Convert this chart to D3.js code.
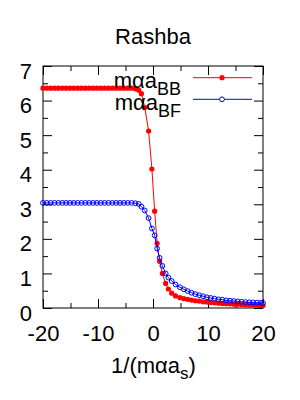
<!DOCTYPE html>
<html>
<head>
<meta charset="utf-8">
<script src="https://cdn.jsdelivr.net/npm/d3@7"></script>
<style>
  body { margin: 0; background: #fff; }
  svg { display: block; font-family: "Liberation Sans", Arial, Helvetica, sans-serif; }
  .axis path { display: none; }
  .axis line { stroke: #000; }
  .axis text { font-size: 22px; fill: #000; font-family: "Liberation Sans", Arial, Helvetica, sans-serif; }
</style>
</head>
<body>
<script>
// x values shared by both series: 1/(m alpha a_s)
var xs = [-20,-19.3,-18.6,-17.9,-17.2,-16.5,-15.8,-15.1,-14.4,-13.7,-13,-12.3,-11.6,-10.9,-10.2,
          -9.5,-8.8,-8.1,-7.4,-6.7,-6,-5.3,-4.6,-3.9,-3.2,-2.6,-2.1,-1.5,-0.8,-0.2,0.3,0.75,1.2,1.7,
          2.3,2.8,3.4,4.1,4.9,5.6,6.3,7.0,7.7,8.4,9.1,9.8,10.5,11.2,11.9,12.6,13.3,14.0,14.7,15.4,
          16.1,16.8,17.5,18.2,18.9,19.6,20];

// m alpha a_BB
var bb = [6.36,6.36,6.36,6.36,6.36,6.36,6.36,6.36,6.36,6.36,6.36,6.36,6.36,6.36,6.36,
          6.36,6.36,6.36,6.36,6.36,6.36,6.36,6.36,6.36,6.34,6.3,6.2,5.8,5.12,4.02,2.8,1.87,1.35,1.0,
          0.71,0.55,0.43,0.35,0.3,0.27,0.25,0.23,0.21,0.2,0.18,0.17,0.16,0.15,0.14,0.13,0.125,0.12,0.11,0.105,
          0.1,0.095,0.09,0.085,0.08,0.075,0.07];

// m alpha a_BF
var bf = [3.04,3.04,3.04,3.04,3.04,3.04,3.04,3.04,3.04,3.04,3.04,3.04,3.04,3.04,3.04,
          3.04,3.04,3.04,3.04,3.04,3.04,3.04,3.04,3.04,3.03,3.01,2.93,2.82,2.6,2.3,2.1,1.72,1.45,1.22,
          1.0,0.88,0.78,0.68,0.6,0.54,0.49,0.44,0.4,0.37,0.34,0.31,0.29,0.27,0.25,0.24,0.22,0.21,0.2,0.19,
          0.18,0.17,0.165,0.16,0.155,0.15,0.145];

var xMajor = [-20, -10, 0, 10, 20];
var xMinor = [-15, -5, 5, 15];
var yMajor = [0, 1, 2, 3, 4, 5, 6, 7];
var yMinor = [0.5, 1.5, 2.5, 3.5, 4.5, 5.5, 6.5];

var width = 300, height = 400;
var mLeft = 43, mRight = 263, mTop = 66, mBottom = 308;

var svg = d3.select("body").append("svg")
    .attr("width", width)
    .attr("height", height);

var x = d3.scaleLinear().domain([-20, 20]).range([mLeft, mRight]);
var y = d3.scaleLinear().domain([0, 7]).range([mBottom, mTop]);

var plain = function(d) { return String(d); };  // hyphen minus, like the original

// ticks on all four sides, pointing inward
svg.append("g").attr("class", "axis")
    .attr("transform", "translate(0," + mBottom + ")")
    .call(d3.axisBottom(x).tickValues(xMajor).tickSize(-9).tickPadding(17).tickFormat(plain));
svg.append("g").attr("class", "axis")
    .attr("transform", "translate(0," + mBottom + ")")
    .call(d3.axisBottom(x).tickValues(xMinor).tickSize(-5).tickFormat(""));
svg.append("g").attr("class", "axis")
    .attr("transform", "translate(0," + mTop + ")")
    .call(d3.axisTop(x).tickValues(xMajor).tickSize(-9).tickFormat(""));
svg.append("g").attr("class", "axis")
    .attr("transform", "translate(0," + mTop + ")")
    .call(d3.axisTop(x).tickValues(xMinor).tickSize(-5).tickFormat(""));

svg.append("g").attr("class", "axis")
    .attr("transform", "translate(" + mLeft + ",0)")
    .call(d3.axisLeft(y).tickValues(yMajor).tickSize(-9).tickPadding(11).tickFormat(plain))
    .selectAll("text").attr("dy", "0.55em");
svg.append("g").attr("class", "axis")
    .attr("transform", "translate(" + mLeft + ",0)")
    .call(d3.axisLeft(y).tickValues(yMinor).tickSize(-5).tickFormat(""));
svg.append("g").attr("class", "axis")
    .attr("transform", "translate(" + mRight + ",0)")
    .call(d3.axisRight(y).tickValues(yMajor).tickSize(-9).tickFormat(""));
svg.append("g").attr("class", "axis")
    .attr("transform", "translate(" + mRight + ",0)")
    .call(d3.axisRight(y).tickValues(yMinor).tickSize(-5).tickFormat(""));

// frame
svg.append("rect")
    .attr("x", mLeft).attr("y", mTop)
    .attr("width", mRight - mLeft).attr("height", mBottom - mTop)
    .attr("fill", "none").attr("stroke", "#000");

var line = d3.line()
    .x(function(d) { return x(d[0]); })
    .y(function(d) { return y(d[1]); });

var bbPts = xs.map(function(v, i) { return [v, bb[i]]; });
var bfPts = xs.map(function(v, i) { return [v, bf[i]]; });

svg.append("path").attr("d", line(bbPts))
    .attr("fill", "none").attr("stroke", "#ff0000").attr("stroke-width", 1);
svg.append("g").selectAll("circle").data(bbPts).enter().append("circle")
    .attr("cx", function(d) { return x(d[0]); })
    .attr("cy", function(d) { return y(d[1]); })
    .attr("r", 2.6)
    .attr("fill", "#ff0000");

svg.append("path").attr("d", line(bfPts))
    .attr("fill", "none").attr("stroke", "#0000ff").attr("stroke-width", 1);
svg.append("g").selectAll("circle").data(bfPts).enter().append("circle")
    .attr("cx", function(d) { return x(d[0]); })
    .attr("cy", function(d) { return y(d[1]); })
    .attr("r", 2.4)
    .attr("fill", "none")
    .attr("stroke", "#0000ff")
    .attr("stroke-width", 1);

// legend
var legend = [
  {sub: "BB", color: "#ff0000", filled: true, ly: 77.7, ty: 88},
  {sub: "BF", color: "#0000ff", filled: false, ly: 99.3, ty: 110}
];
legend.forEach(function(l) {
  var t = svg.append("text")
      .attr("x", 181).attr("y", l.ty)
      .attr("text-anchor", "end")
      .attr("font-size", 22);
  t.append("tspan").text("mαa");
  t.append("tspan").attr("font-size", 18).attr("dy", 7).text(l.sub);
  svg.append("line")
      .attr("x1", 193).attr("x2", 252).attr("y1", l.ly).attr("y2", l.ly)
      .attr("stroke", l.color);
  svg.append("circle")
      .attr("cx", 222).attr("cy", l.ly)
      .attr("r", l.filled ? 2.6 : 2.4)
      .attr("fill", l.filled ? l.color : "#fff")
      .attr("stroke", l.filled ? "none" : l.color);
});

// title
svg.append("text")
    .attr("x", 153).attr("y", 44)
    .attr("text-anchor", "middle")
    .attr("font-size", 22)
    .text("Rashba");

// x axis label
var xl = svg.append("text")
    .attr("x", 153.5).attr("y", 372.7)
    .attr("text-anchor", "middle")
    .attr("font-size", 22);
xl.append("tspan").text("1/(mαa");
xl.append("tspan").attr("font-size", 17).attr("dy", 6).text("s");
xl.append("tspan").attr("dy", -6).text(")");
</script>
</body>
</html>
